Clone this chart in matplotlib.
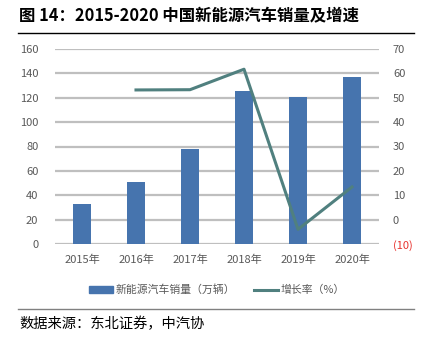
import matplotlib
matplotlib.use("Agg")
import matplotlib.pyplot as plt
from matplotlib.lines import Line2D
from matplotlib.patches import Patch
import numpy as np

plt.rcParams['font.family'] = ['Noto Sans CJK SC', 'DejaVu Sans']

years = ['2015年', '2016年', '2017年', '2018年', '2019年', '2020年']
sales = [33.1, 50.7, 77.7, 125.6, 120.6, 136.7]
growth_years = ['2016年', '2017年', '2018年', '2019年', '2020年']
growth = [53.2, 53.3, 61.7, -4.0, 13.4]
left_ticks = [0, 20, 40, 60, 80, 100, 120, 140, 160]
right_ticks = [-10, 0, 10, 20, 30, 40, 50, 60, 70]
right_labels = ['(10)', '0', '10', '20', '30', '40', '50', '60', '70']

bar_color = '#4674AE'
line_color = '#50807F'
grid_color = '#BFBFBF'
tick_color = '#595959'

fig = plt.figure(figsize=(4.21, 3.42), dpi=100)
ax = fig.add_axes([55/421, 1-244/342, (379-55)/421, (244-49)/342])
x = np.arange(len(years))
ax.bar(x, sales, width=0.32, color=bar_color, zorder=3)
ax.set_xlim(-0.5, len(years)-0.5)
ax.set_ylim(0, 160)
ax.set_yticks(left_ticks)
ax.set_xticks(x)
ax.set_xticklabels(years)
for y in left_ticks:
    ax.axhline(y, color=grid_color, lw=1.6, zorder=1)
for s in ax.spines.values():
    s.set_visible(False)
ax.tick_params(axis='both', length=0, colors=tick_color, labelsize=8)
ax.tick_params(axis='y', pad=12)
ax.tick_params(axis='x', pad=8)

ax2 = ax.twinx()
gx = [years.index(g) for g in growth_years]
ax2.plot(gx, growth, color=line_color, lw=2.2, zorder=4)
ax2.set_ylim(-10, 70)
ax2.set_yticks(right_ticks)
ax2.set_yticklabels(right_labels)
for s in ax2.spines.values():
    s.set_visible(False)
ax2.tick_params(axis='y', length=0, colors=tick_color, labelsize=8, pad=10)
ax2.get_yticklabels()[0].set_color('#E8322E')

handles = [Patch(color=bar_color), Line2D([0], [0], color=line_color, lw=2.2)]
fig.legend(handles, ['新能源汽车销量（万辆）', '增长率（%）'], loc='center',
           bbox_to_anchor=(0.515, 1-290/342), ncol=2, frameon=False,
           fontsize=7.8, labelcolor=tick_color, handlelength=2.2,
           handleheight=0.5, columnspacing=1.8, handletextpad=0.2)

fig.text(19/421, 1-16/342, '图 14：2015-2020 中国新能源汽车销量及增速',
         fontsize=11.8, fontweight='bold', va='center', ha='left')
fig.add_artist(Line2D([18/421, 414/421], [1-33/342, 1-33/342], color='black', lw=1.0))
fig.add_artist(Line2D([18/421, 414/421], [1-309/342, 1-309/342], color='#808080', lw=1.0))
fig.text(19/421, 1-324/342, '数据来源：东北证券，中汽协', fontsize=10.3, va='center', ha='left')

fig.savefig('out.png', dpi=100)
